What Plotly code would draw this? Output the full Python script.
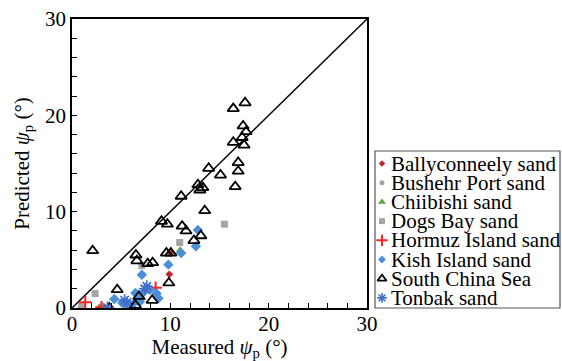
import plotly.graph_objects as go

# ---- data (measured, predicted) ----
bally_x = [9.9, 10.05, 3.3]
bally_y = [3.5, 5.7, 0.05]

bushehr_x = [2.9, 0.9]
bushehr_y = [0.15, 0.1]

chiibishi_x = [11.0, 7.1, 2.75]
chiibishi_y = [6.0, 1.05, 0.0]

dogs_x = [15.5, 10.95, 7.1, 2.35, 1.0]
dogs_y = [8.7, 6.8, 4.4, 1.5, 0.2]

hormuz_x = [1.35, 3.0, 8.5]
hormuz_y = [0.6, 0.07, 2.1]

kish_x = [12.8, 12.6, 11.1, 9.8, 7.1, 7.9, 8.6, 8.8, 7.25, 6.75, 6.45, 6.9, 4.3, 5.1, 5.8, 5.7, 6.3]
kish_y = [8.1, 6.4, 5.7, 4.5, 3.45, 1.9, 1.5, 1.0, 1.6, 1.35, 1.55, 0.65, 0.93, 0.55, 0.4, 0.07, 0.5]

scs_x = [16.4, 17.6, 17.4, 17.7, 17.3, 16.4, 17.5, 16.9, 16.9, 13.9, 15.1, 12.8, 13.0, 13.3,
         16.6, 11.1, 13.5, 9.1, 9.7, 11.2, 11.6, 13.1, 12.4, 2.1, 6.5, 6.6, 7.7, 8.2, 9.6,
         10.05, 9.85, 4.6, 6.8, 8.15, 6.45, 3.8]
scs_y = [20.7, 21.3, 18.9, 18.3, 17.7, 17.2, 16.9, 15.1, 14.2, 14.5, 13.8, 12.8, 12.25, 12.5,
         12.6, 11.6, 10.1, 9.0, 8.7, 8.5, 8.0, 7.5, 7.0, 5.95, 5.5, 4.9, 4.6, 4.7, 5.7,
         5.7, 2.6, 1.9, 1.2, 0.8, 0.28, 0.0]

tonbak_x = [7.6, 7.4, 5.35, 5.6, 3.6]
tonbak_y = [2.25, 2.0, 0.8, 0.6, 0.05]

line_x = [0, 30]
line_y = [0, 30]

FONT = "Liberation Serif, Times New Roman, Times, serif"

# (name, x, y, marker in plot, marker size in legend)
series = [
    ("Ballyconneely sand", bally_x, bally_y, dict(symbol="diamond", color="#C0272D", size=6), 5),
    ("Bushehr Port sand", bushehr_x, bushehr_y, dict(symbol="circle", color="#A5A5A5", size=6), 5),
    ("Chiibishi sand", chiibishi_x, chiibishi_y, dict(symbol="triangle-up", color="#5DA541", size=8), 7),
    ("Dogs Bay sand", dogs_x, dogs_y, dict(symbol="square", color="#A5A5A5", size=7), 6),
    ("Hormuz Island sand", hormuz_x, hormuz_y, dict(symbol="cross-thin", color="#FF2020", size=9,
                                                     line=dict(color="#FF2020", width=2)), 8),
    ("Kish Island sand", kish_x, kish_y, dict(symbol="diamond", color="#4A8FD9", size=8), 6),
    ("South China Sea", scs_x, scs_y, dict(symbol="triangle-up-open", color="black", size=10,
                                           line=dict(color="black", width=1.8)), 8),
    ("Tonbak sand", tonbak_x, tonbak_y, dict(symbol="asterisk-open", color="#3F6FC8", size=10,
                                           line=dict(color="#3F6FC8", width=1.6)), 8),
]

fig = go.Figure()

fig.add_trace(go.Scatter(x=line_x, y=line_y, mode="lines",
                         line=dict(color="black", width=1.5), showlegend=False, hoverinfo="skip"))

for name, xs, ys, mk, _ in series:
    fig.add_trace(go.Scatter(x=xs, y=ys, mode="markers", name=name, marker=mk, showlegend=False))

# ---- hand-built legend on its own axes (row index = series order) ----
ROW0, ROWSTEP = 12.5, 19.2
for i, (name, xs, ys, mk, lsize) in enumerate(series):
    lm = dict(mk)
    lm["size"] = lsize
    fig.add_trace(go.Scatter(x=[7.0], y=[ROW0 + ROWSTEP * i], mode="markers", marker=lm,
                             xaxis="x2", yaxis="y2", showlegend=False, hoverinfo="skip"))
    fig.add_annotation(x=13.5, y=ROW0 + ROWSTEP * i, xref="x2", yref="y2", text=name,
                       showarrow=False, xanchor="left", yanchor="middle",
                       font=dict(family=FONT, size=21, color="black"))

fig.add_shape(type="rect", xref="x2 domain", yref="y2 domain", x0=0, x1=1, y0=0, y1=1,
              line=dict(color="#555555", width=1.2))

W_PLOT = 488.0
axis_common = dict(
    range=[0, 30], dtick=10, tick0=0, ticks="inside", ticklen=5, tickwidth=1, tickcolor="black",
    showline=True, linecolor="black", linewidth=1.5, mirror=True, showgrid=False, zeroline=False,
    tickfont=dict(family=FONT, size=21, color="black"),
    minor=dict(dtick=2, ticks="inside", ticklen=5, tickcolor="black", showgrid=False),
)

fig.update_layout(
    width=562, height=361,
    margin=dict(l=72, r=2, t=19, b=53, autoexpand=False),
    paper_bgcolor="white", plot_bgcolor="white",
    font=dict(family=FONT, color="black"),
    showlegend=False,
    xaxis=dict(axis_common, domain=[0, 295 / W_PLOT], ticklabelstandoff=-4,
               title=dict(text="Measured <i>ψ</i><sub>p</sub> (°)",
                          font=dict(family=FONT, size=21), standoff=0)),
    yaxis=dict(axis_common, domain=[0, 1],
               title=dict(text="Predicted <i>ψ</i><sub>p</sub> (°)",
                          font=dict(family=FONT, size=21), standoff=10)),
    xaxis2=dict(domain=[303 / W_PLOT, 1.0], range=[0, 185], visible=False, anchor="y2",
                fixedrange=True),
    yaxis2=dict(domain=[0, 157 / 289.0], range=[157, 0], visible=False, anchor="x2",
                fixedrange=True),
)

fig.write_html("out.html")
